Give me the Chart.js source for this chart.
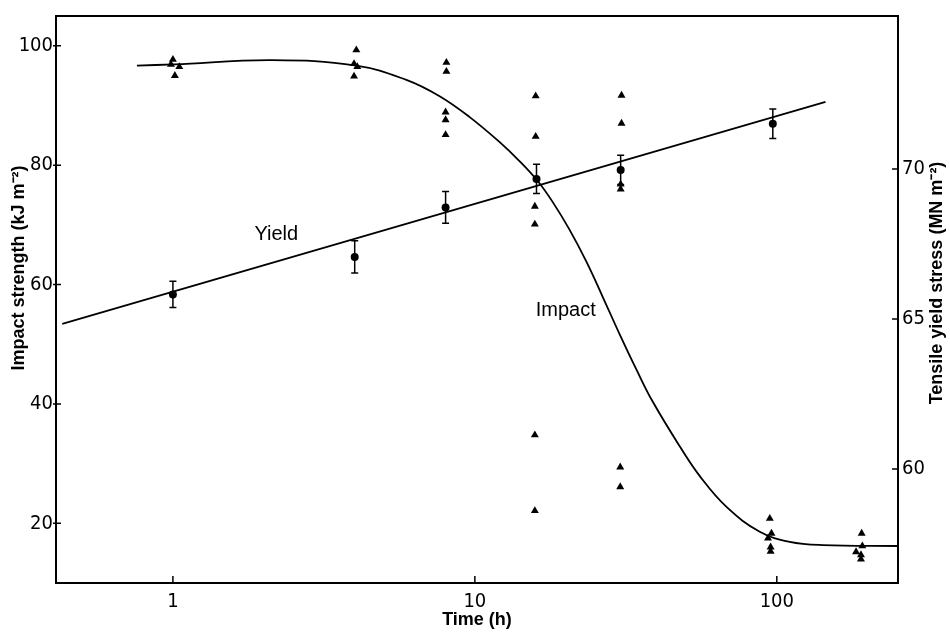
<!DOCTYPE html>
<html lang="en">
<head>
<meta charset="UTF-8">
<title>Impact strength and tensile yield stress against time</title>
<script src="https://cdn.jsdelivr.net/npm/chart.js@4.4.0/dist/chart.umd.min.js"></script>
<style>
html, body { margin: 0; padding: 0; background: #fff; }
#wrap { width: 950px; height: 632px; }
</style>
</head>
<body>
<div id="wrap"><canvas id="myChart" width="950" height="632"></canvas></div>
<script>
// impact strength of single specimens (triangles), kJ m-2
var triTimes = [1.0, 0.985, 1.05, 1.015,
                4.05, 3.98, 4.08, 3.98,
                8.05, 8.05, 8.0, 8.0, 8.0,
                15.9, 15.9, 15.8, 15.8, 15.8, 15.8,
                30.6, 30.6, 30.4, 30.4, 30.3, 30.3,
                94.8, 96, 93.5, 95.4, 95.4,
                191, 192, 183, 190, 190];
var triImpact = [97.7, 96.9, 96.5, 95.0,
                 99.3, 97.0, 96.5, 94.9,
                 97.2, 95.7, 88.9, 87.6, 85.1,
                 91.6, 84.8, 73.1, 70.1, 34.8, 22.1,
                 91.7, 87.0, 76.8, 76.0, 29.4, 26.1,
                 20.8, 18.3, 17.5, 16.0, 15.3,
                 18.3, 16.2, 15.2, 14.7, 14.0];

// impact curve drawn through the points
var curveTimes = [0.76, 1.01, 2.13, 4.05, 5.93, 7.62, 9.59, 12.06, 14.05, 16.12, 18.07, 20.58,
                  23.43, 26.48, 30.15, 34.33, 38.8, 47.7, 55.6, 68.3, 87.8, 110.4, 142.1, 252];
var curveImpact = [96.7, 96.9, 97.6, 96.7, 94.3, 91.6, 88.1, 83.9, 80.7, 77.4, 73.9, 69.2,
                   63.8, 58.0, 51.7, 45.7, 40.4, 32.9, 27.9, 22.7, 18.6, 16.9, 16.35, 16.2];

// tensile yield stress, means with error bars, MN m-2
var yieldTimes = [1, 4, 8, 16, 30.4, 97];
var yieldStress = [65.82, 67.07, 68.72, 69.67, 69.97, 71.51];
var yieldErr = [0.44, 0.54, 0.53, 0.49, 0.49, 0.49];

// straight yield line (log time)
var yieldLineTimes = [0.43, 145];
var yieldLineStress = [64.84, 72.24];

// axis ticks
var xTicks = [1, 10, 100];
var leftTicks = [20, 40, 60, 80, 100];
var rightTicks = [60, 65, 70];

// curve names, placed in data units (time, impact strength)
var curveNames = ['Yield', 'Impact'];
var nameTimes = [2.2, 20];
var nameImpact = [68.4, 55.6];

var tickFont = "'Liberation Sans Narrow', 'DejaVu Sans Condensed', 'Liberation Sans', sans-serif";
var textFont = "'Liberation Sans', Arial, sans-serif";

function pairs(xs, ys) {
  var out = [];
  for (var i = 0; i < xs.length; i++) out.push({x: xs[i], y: ys[i]});
  return out;
}

var extrasPlugin = {
  id: 'extras',
  afterDatasetsDraw: function(chart) {
    var ctx = chart.ctx, a = chart.chartArea;
    var xs = chart.scales.x, yl = chart.scales.y, yr = chart.scales.y2;
    ctx.save();
    ctx.strokeStyle = '#000';
    ctx.fillStyle = '#000';

    // frame
    ctx.lineWidth = 2;
    ctx.strokeRect(a.left, a.top, a.right - a.left, a.bottom - a.top);

    // tick marks (inside)
    ctx.lineWidth = 1.5;
    ctx.beginPath();
    xTicks.forEach(function(v) {
      var px = xs.getPixelForValue(v);
      ctx.moveTo(px, a.bottom); ctx.lineTo(px, a.bottom - 7);
    });
    leftTicks.forEach(function(v) {
      var py = yl.getPixelForValue(v);
      ctx.moveTo(a.left - 3, py); ctx.lineTo(a.left + 5, py);
    });
    rightTicks.forEach(function(v) {
      var py = yr.getPixelForValue(v);
      ctx.moveTo(a.right, py); ctx.lineTo(a.right - 6, py);
    });
    ctx.stroke();

    // error bars on yield means
    ctx.lineWidth = 1.5;
    ctx.beginPath();
    for (var i = 0; i < yieldTimes.length; i++) {
      var px = xs.getPixelForValue(yieldTimes[i]);
      var pt = yr.getPixelForValue(yieldStress[i] + yieldErr[i]);
      var pb = yr.getPixelForValue(yieldStress[i] - yieldErr[i]);
      ctx.moveTo(px, pt); ctx.lineTo(px, pb);
      ctx.moveTo(px - 3.5, pt); ctx.lineTo(px + 3.5, pt);
      ctx.moveTo(px - 3.5, pb); ctx.lineTo(px + 3.5, pb);
    }
    ctx.stroke();

    // curve names
    ctx.font = '20px ' + textFont;
    ctx.textAlign = 'center';
    ctx.textBaseline = 'middle';
    for (var j = 0; j < curveNames.length; j++) {
      ctx.fillText(curveNames[j], xs.getPixelForValue(nameTimes[j]), yl.getPixelForValue(nameImpact[j]));
    }

    // y axis titles, both read bottom to top
    ctx.font = 'bold 18px ' + textFont;
    ctx.save();
    ctx.translate(19, 268);
    ctx.rotate(-Math.PI / 2);
    ctx.fillText('Impact strength (kJ m\u207B\u00B2)', 0, 0);
    ctx.restore();
    ctx.save();
    ctx.translate(937, 283);
    ctx.rotate(-Math.PI / 2);
    ctx.fillText('Tensile yield stress (MN m\u207B\u00B2)', 0, 0);
    ctx.restore();

    ctx.restore();
  }
};

var ctx = document.getElementById('myChart').getContext('2d');
var chart = new Chart(ctx, {
  type: 'scatter',
  data: {
    datasets: [{
      label: 'Impact curve',
      data: pairs(curveTimes, curveImpact),
      yAxisID: 'y',
      showLine: true,
      borderColor: '#000',
      borderWidth: 1.8,
      pointRadius: 0,
      tension: 0.4
    }, {
      label: 'Yield line',
      data: pairs(yieldLineTimes, yieldLineStress),
      yAxisID: 'y2',
      showLine: true,
      borderColor: '#000',
      borderWidth: 1.8,
      pointRadius: 0
    }, {
      label: 'Impact',
      data: pairs(triTimes, triImpact),
      yAxisID: 'y',
      pointStyle: 'triangle',
      pointRadius: 4.6,
      backgroundColor: '#000',
      borderColor: '#000',
      borderWidth: 0
    }, {
      label: 'Yield',
      data: pairs(yieldTimes, yieldStress),
      yAxisID: 'y2',
      pointStyle: 'circle',
      pointRadius: 4,
      backgroundColor: '#000',
      borderColor: '#000',
      borderWidth: 0
    }]
  },
  options: {
    responsive: false,
    animation: false,
    layout: { padding: { top: 7, left: 0, right: 0, bottom: 0 } },
    plugins: { legend: { display: false }, tooltip: { enabled: false } },
    scales: {
      x: {
        type: 'logarithmic',
        position: 'bottom',
        min: 0.41,
        max: 252,
        afterBuildTicks: function(scale) { scale.ticks = xTicks.map(function(v) { return {value: v}; }); },
        afterFit: function(scale) { scale.height = 49; },
        grid: { display: false, drawTicks: false },
        border: { display: false },
        ticks: {
          color: '#000',
          padding: 7,
          maxRotation: 0,
          autoSkip: false,
          font: { family: tickFont, size: 20 },
          callback: function(v) { return String(v); }
        },
        title: {
          display: true,
          text: 'Time (h)',
          color: '#000',
          padding: { top: 0, bottom: 1 },
          font: { family: textFont, size: 18, weight: 'bold' }
        }
      },
      y: {
        type: 'linear',
        position: 'left',
        min: 10,
        max: 105,
        afterBuildTicks: function(scale) { scale.ticks = leftTicks.map(function(v) { return {value: v}; }); },
        afterFit: function(scale) { scale.width = 56; },
        grid: { display: false, drawTicks: false },
        border: { display: false },
        ticks: { color: '#000', padding: 3, font: { family: tickFont, size: 20 } }
      },
      y2: {
        type: 'linear',
        position: 'right',
        min: 56.2,
        max: 75.1,
        afterBuildTicks: function(scale) { scale.ticks = rightTicks.map(function(v) { return {value: v}; }); },
        afterFit: function(scale) { scale.width = 52; },
        grid: { display: false, drawTicks: false },
        border: { display: false },
        ticks: { color: '#000', padding: 4, font: { family: tickFont, size: 20 } }
      }
    }
  },
  plugins: [extrasPlugin]
});
</script>
</body>
</html>
